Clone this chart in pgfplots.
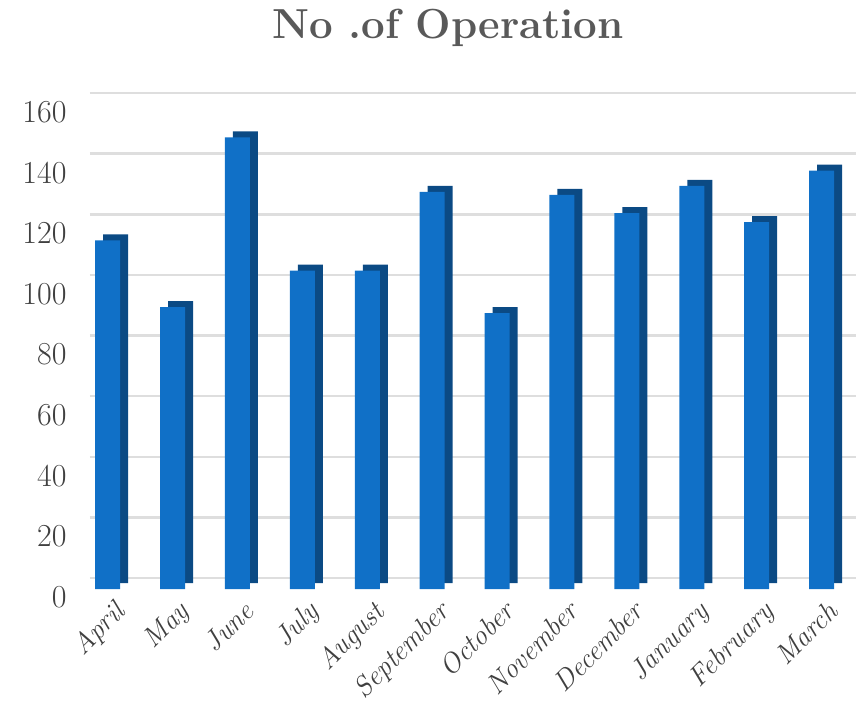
\documentclass[border=0pt]{standalone}
\usepackage{pgfplots}
\pgfplotsset{compat=1.18}
\definecolor{barfront}{RGB}{16,112,199}
\definecolor{barside}{RGB}{11,74,132}
\definecolor{gridc}{RGB}{222,222,222}
\definecolor{txt}{RGB}{64,64,64}
\definecolor{ttl}{RGB}{89,89,89}
\begin{document}
\begin{tikzpicture}
\path[use as bounding box] (-70pt,-116pt) rectangle (786pt,589pt);
\begin{axis}[
  scale only axis, width=786pt, height=485pt,
  xmin=-0.58, xmax=11.53, ymin=0, ymax=160,
  ybar, bar width=25pt,
  xtick={0,...,11},
  xticklabels={April,May,June,July,August,September,October,November,December,January,February,March},
  ytick={0,20,...,160},
  axis line style={draw=none}, tick style={draw=none},
  ymajorgrids, major grid style={gridc, line width=2.5pt, yshift=11pt, xshift=20pt},
  clip=false,
  /pgf/number format/assume math mode=true,
  xticklabel style={rotate=45, anchor=north east, font=\fontsize{28}{30}\selectfont\itshape, text=txt, xshift=2pt, yshift=-4pt},
  yticklabel style={font=\fontsize{32}{34}\selectfont, text=txt, yshift=-8pt},
]
\addplot[fill=barside, draw=none, bar shift=0pt, xshift=8pt, yshift=6pt] coordinates {
 (0,115) (1,93) (2,149) (3,105) (4,105) (5,131) (6,91) (7,130) (8,124) (9,133) (10,121) (11,138)};
\addplot[fill=barfront, draw=none, bar shift=0pt] coordinates {
 (0,115) (1,93) (2,149) (3,105) (4,105) (5,131) (6,91) (7,130) (8,124) (9,133) (10,121) (11,138)};
\end{axis}
\node[font=\fontsize{42}{46}\selectfont\bfseries, text=ttl] at (378pt,561pt) {No .of Operation};
\end{tikzpicture}
\end{document}
